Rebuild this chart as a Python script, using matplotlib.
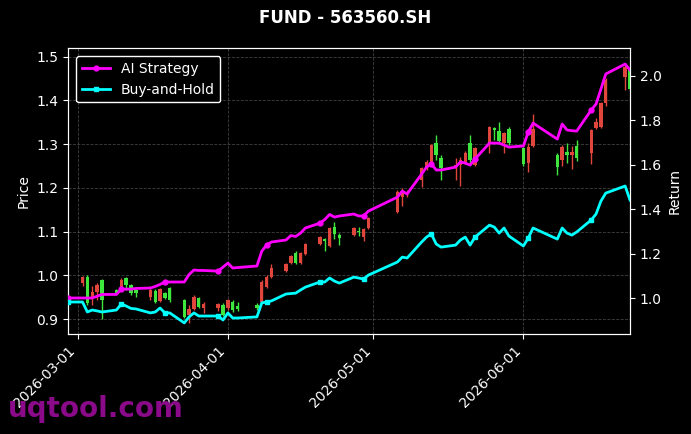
import numpy as np
import pandas as pd
import matplotlib
matplotlib.use("Agg")
import matplotlib.pyplot as plt
import matplotlib.dates as mdates

# trading days (CN calendar, holidays skipped; no data on Jun 4-5)
dates = pd.to_datetime([
    "2026-02-27",
    "2026-03-02", "2026-03-03", "2026-03-04", "2026-03-05", "2026-03-06",
    "2026-03-09", "2026-03-10", "2026-03-11", "2026-03-12", "2026-03-13",
    "2026-03-16", "2026-03-17", "2026-03-18", "2026-03-19", "2026-03-20",
    "2026-03-23", "2026-03-24", "2026-03-25", "2026-03-26", "2026-03-27",
    "2026-03-30", "2026-03-31", "2026-04-01", "2026-04-02", "2026-04-03",
    "2026-04-07", "2026-04-08", "2026-04-09", "2026-04-10",
    "2026-04-13", "2026-04-14", "2026-04-15", "2026-04-16", "2026-04-17",
    "2026-04-20", "2026-04-21", "2026-04-22", "2026-04-23", "2026-04-24",
    "2026-04-27", "2026-04-28", "2026-04-29", "2026-04-30",
    "2026-05-06", "2026-05-07", "2026-05-08",
    "2026-05-11", "2026-05-12", "2026-05-13", "2026-05-14", "2026-05-15",
    "2026-05-18", "2026-05-19", "2026-05-20", "2026-05-21", "2026-05-22",
    "2026-05-25", "2026-05-26", "2026-05-27", "2026-05-28", "2026-05-29",
    "2026-06-01", "2026-06-02", "2026-06-03",
    "2026-06-08", "2026-06-09", "2026-06-10", "2026-06-11", "2026-06-12",
    "2026-06-15", "2026-06-16", "2026-06-17", "2026-06-18",
    "2026-06-22", "2026-06-23",
])

nan = np.nan
opens = [nan,
    0.983, 0.997, 0.951, 0.962, 0.990, 0.967, 0.974, 0.994, 0.978, 0.967,
    0.951, 0.965, 0.942, 0.960, 0.972, 0.944, 0.910, 0.924, 0.949, 0.926,
    0.926, 0.933, 0.926, 0.940, 0.930, 0.933, 0.940, 0.974, 0.997, 1.010,
    1.029, 1.051, 1.029, 1.049, 1.072, 1.083, 1.067, 1.111, 1.093, 1.093,
    1.102, 1.088, 1.109, 1.145, 1.179, 1.186, 1.218, 1.246, 1.257, 1.303,
    1.269, 1.246, 1.253, 1.259, 1.303, 1.253, 1.303, 1.337, 1.330, 1.303,
    1.335, 1.291, 1.257, 1.296, 1.275, 1.264, 1.282, 1.275, 1.296, 1.280,
    1.337, 1.339, 1.394, 1.454, 1.470]
highs = [nan,
    0.999, 1.001, 0.976, 0.983, 0.992, 0.970, 0.994, 0.997, 0.981, 0.972,
    0.974, 0.969, 0.972, 0.962, 0.974, 0.946, 0.933, 0.956, 0.951, 0.940,
    0.937, 0.937, 0.947, 0.944, 0.940, 0.937, 0.990, 1.001, 1.026, 1.029,
    1.047, 1.056, 1.054, 1.074, 1.090, 1.086, 1.111, 1.122, 1.097, 1.111,
    1.111, 1.109, 1.133, 1.195, 1.200, 1.195, 1.248, 1.264, 1.300, 1.321,
    1.275, 1.269, 1.271, 1.284, 1.321, 1.294, 1.341, 1.339, 1.351, 1.328,
    1.339, 1.294, 1.303, 1.369, 1.280, 1.298, 1.303, 1.296, 1.310, 1.335,
    1.360, 1.396, 1.451, 1.481, 1.474]
lows = [nan,
    0.976, 0.933, 0.933, 0.944, 0.901, 0.957, 0.969, 0.967, 0.955, 0.951,
    0.944, 0.937, 0.940, 0.946, 0.940, 0.903, 0.892, 0.921, 0.926, 0.915,
    0.919, 0.907, 0.921, 0.917, 0.919, 0.921, 0.937, 0.972, 0.994, 1.008,
    1.026, 1.026, 1.026, 1.047, 1.070, 1.056, 1.065, 1.083, 1.070, 1.090,
    1.090, 1.079, 1.106, 1.143, 1.159, 1.179, 1.202, 1.241, 1.255, 1.264,
    1.218, 1.218, 1.205, 1.255, 1.253, 1.250, 1.280, 1.309, 1.305, 1.280,
    1.298, 1.250, 1.237, 1.294, 1.230, 1.250, 1.257, 1.243, 1.262, 1.255,
    1.335, 1.337, 1.387, 1.424, 1.424]
closes = [nan,
    0.997, 0.937, 0.962, 0.978, 0.944, 0.960, 0.990, 0.978, 0.960, 0.960,
    0.967, 0.940, 0.969, 0.949, 0.944, 0.905, 0.924, 0.951, 0.928, 0.935,
    0.935, 0.910, 0.944, 0.921, 0.924, 0.926, 0.985, 0.997, 1.017, 1.026,
    1.045, 1.029, 1.051, 1.072, 1.088, 1.079, 1.109, 1.095, 1.086, 1.109,
    1.099, 1.106, 1.131, 1.191, 1.193, 1.191, 1.246, 1.259, 1.298, 1.275,
    1.246, 1.253, 1.264, 1.280, 1.264, 1.291, 1.339, 1.333, 1.307, 1.326,
    1.303, 1.255, 1.294, 1.335, 1.248, 1.294, 1.275, 1.282, 1.269, 1.333,
    1.351, 1.394, 1.447, 1.476, 1.426]

ai_strategy = [
    1.000, 1.000, 1.000, 1.000, 1.008, 1.016, 1.016, 1.040, 1.040, 1.040,
    1.043, 1.045, 1.052, 1.061, 1.072, 1.072, 1.072, 1.106, 1.126, 1.124,
    1.124, 1.121, 1.139, 1.157, 1.135, 1.137, 1.144, 1.211, 1.238, 1.252,
    1.261, 1.281, 1.277, 1.292, 1.315, 1.337, 1.353, 1.376, 1.364, 1.369,
    1.378, 1.369, 1.369, 1.391, 1.454, 1.481, 1.468, 1.558, 1.589, 1.603,
    1.576, 1.576, 1.589, 1.612, 1.607, 1.598, 1.625, 1.697, 1.697, 1.697,
    1.688, 1.679, 1.684, 1.747, 1.787, 1.715, 1.783, 1.756, 1.753, 1.751,
    1.846, 1.873, 1.940, 2.008, 2.053, 2.026]
buy_hold = [
    0.982, 0.982, 0.937, 0.946, 0.942, 0.937, 0.946, 0.973, 0.964, 0.953,
    0.951, 0.933, 0.937, 0.955, 0.933, 0.933, 0.888, 0.915, 0.933, 0.919,
    0.919, 0.919, 0.901, 0.933, 0.910, 0.910, 0.915, 0.978, 0.982, 0.987,
    1.018, 1.020, 1.022, 1.036, 1.049, 1.072, 1.072, 1.090, 1.076, 1.067,
    1.094, 1.090, 1.085, 1.103, 1.162, 1.184, 1.180, 1.252, 1.274, 1.288,
    1.243, 1.229, 1.238, 1.261, 1.274, 1.238, 1.274, 1.328, 1.319, 1.292,
    1.315, 1.279, 1.234, 1.270, 1.315, 1.265, 1.315, 1.292, 1.283, 1.297,
    1.351, 1.378, 1.436, 1.472, 1.504, 1.441]

UP, DOWN = "#e0463c", "#3ee63e"

fig = plt.figure(figsize=(6.91, 4.34), dpi=100, facecolor="black")
ax = fig.add_axes([0.0984, 0.2304, 0.8133, 0.659], facecolor="black")

# candlesticks on the price axis
xs = mdates.date2num(dates)
for x, o, h, l, c in zip(xs, opens, highs, lows, closes):
    if np.isnan(o):
        continue
    col = UP if c >= o else DOWN
    ax.vlines(x, l, h, color=col, linewidth=1, zorder=2)
    ax.bar(x, abs(c - o), bottom=min(o, c), width=0.7, color=col, zorder=3)

ax.set_ylim(0.866, 1.520)
ax.set_yticks(np.arange(0.9, 1.51, 0.1))
ax.set_ylabel("Price", color="white", fontsize=10)
ax.grid(True, color="gray", linestyle="--", linewidth=0.6, alpha=0.5)
ax.set_axisbelow(True)

# returns on a twin axis
ax2 = ax.twinx()
ax2.plot(dates, ai_strategy, color="magenta", linewidth=2, marker="o",
         markersize=3.5, markevery=7, label="AI Strategy", zorder=5)
ax2.plot(dates, buy_hold, color="cyan", linewidth=2, marker="s",
         markersize=3.5, markevery=7, label="Buy-and-Hold", zorder=5)
ax2.set_ylim(0.838, 2.125)
ax2.set_yticks(np.arange(1.0, 2.01, 0.2))
ax2.set_ylabel("Return", color="white", fontsize=10)

ax.set_xlim(dates[0], dates[-1])
ax.xaxis.set_major_locator(mdates.MonthLocator())
ax.xaxis.set_major_formatter(mdates.DateFormatter("%Y-%m-%d"))
plt.setp(ax.get_xticklabels(), rotation=45, ha="right")

for a in (ax, ax2):
    a.tick_params(colors="white", labelsize=10)
    for s in a.spines.values():
        s.set_color("white")

leg = ax2.legend(loc="upper left", facecolor="black", edgecolor="white",
                 fontsize=10, framealpha=1, borderaxespad=0.6)
for t in leg.get_texts():
    t.set_color("white")

fig.suptitle("FUND - 563560.SH", color="white", fontsize=12,
             fontweight="bold", y=0.98)
fig.text(0.012, 0.04, "uqtool.com", color="#8a0a8a", fontsize=20,
         fontweight="bold")

fig.savefig("out.png", dpi=100, facecolor="black")
